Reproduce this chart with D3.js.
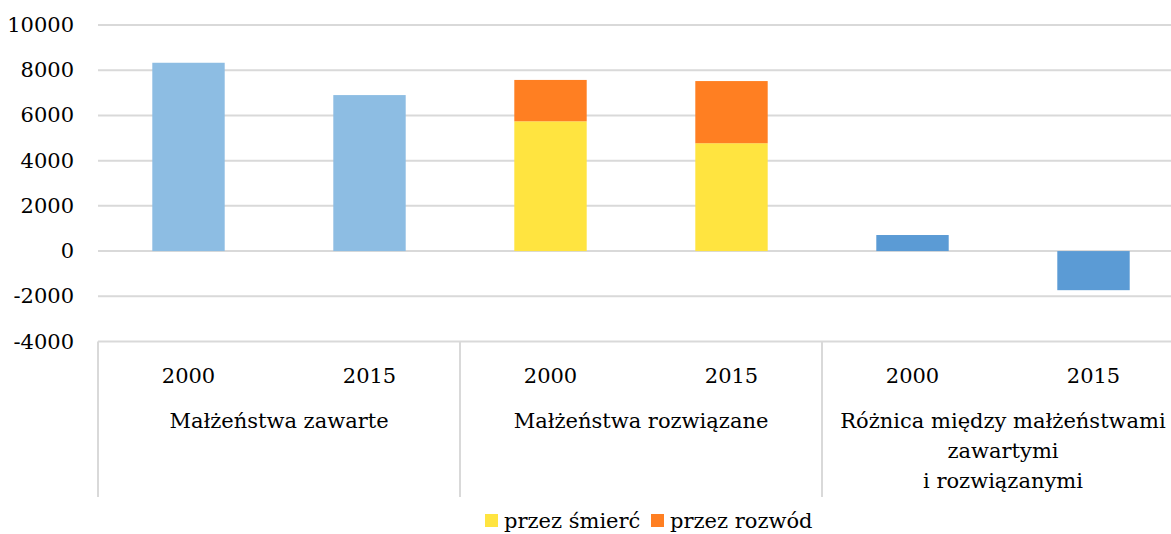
<!DOCTYPE html>
<html>
<head>
	<meta charset="utf-8">
	<title>Małżeństwa zawarte i rozwiązane</title>
	<style>
		html, body { margin:0; padding:0; background:#fff; }
		svg { display:block; }
		.grid line { stroke: #d9d9d9; stroke-width: 2px; }
	</style>
	<script src="https://d3js.org/d3.v7.min.js"></script>
</head>
<body>
<svg id="chart"></svg>
<script>

	//data
	var groups = ["Małżeństwa zawarte", "Małżeństwa rozwiązane", "Różnica między małżeństwami|zawartymi|i rozwiązanymi"];
	var years = ["2000", "2015"];
	var zawarte = [8330, 6900];
	var smierc = [5740, 4770];
	var rozwod = [1830, 2750];
	var roznica = [710, -1730];
	var yTicks = [-4000, -2000, 0, 2000, 4000, 6000, 8000, 10000];
	var legendLabels = ["przez śmierć", "przez rozwód"];

	var colZaw = "#8dbde3", colSm = "#ffe440", colRoz = "#ff7f22", colDiff = "#5b9bd5";
	var FONT = "'DejaVu Serif', 'Liberation Serif', serif";

	var W = 1171, H = 534,
			left = 98, step = 181,
			svg = d3.select("#chart").attr("width", W).attr("height", H);

	function label(sel){
		return sel.append("text").style("font-family", FONT).style("font-size", "21px").attr("fill", "#000");
	}

	//one slot per group/year
	var slots = [];
	groups.forEach(function(g, gi){ years.forEach(function(y, yi){ slots.push(gi+"_"+yi); }); });

	var x = d3.scaleBand().domain(slots).range([left, left + slots.length*step]).paddingInner(0.6).paddingOuter(0.3);
	var y = d3.scaleLinear().domain([-4000, 10000]).range([341.5, 25]);

	//grid
	svg.append("g").attr("class","grid").selectAll("line").data(yTicks).enter()
			.append("line").attr("x1", left).attr("x2", W).attr("y1", function(d){ return y(d); }).attr("y2", function(d){ return y(d); });

	//y labels
	var yl = svg.append("g");
	yTicks.forEach(function(d){
		label(yl).attr("x", 74).attr("y", y(d)+7).attr("text-anchor","end").text(d);
	});

	//bars
	var g = svg.append("g");
	zawarte.forEach(function(v, i){
		g.append("rect").attr("x", x("0_"+i)).attr("width", x.bandwidth())
				.attr("y", y(v)).attr("height", y(0)-y(v)).attr("fill", colZaw);
	});
	smierc.forEach(function(v, i){
		var tot = v + rozwod[i];
		g.append("rect").attr("x", x("1_"+i)).attr("width", x.bandwidth())
				.attr("y", y(v)).attr("height", y(0)-y(v)).attr("fill", colSm);
		g.append("rect").attr("x", x("1_"+i)).attr("width", x.bandwidth())
				.attr("y", y(tot)).attr("height", y(v)-y(tot)).attr("fill", colRoz);
	});
	roznica.forEach(function(v, i){
		g.append("rect").attr("x", x("2_"+i)).attr("width", x.bandwidth())
				.attr("y", y(Math.max(0, v))).attr("height", Math.abs(y(v)-y(0))).attr("fill", colDiff);
	});

	//category axis (multi level)
	var axTop = y(-4000), axBot = 497;
	var ax = svg.append("g");
	for(var k=0; k<=groups.length; k++){
		var xx = left + k*2*step;
		ax.append("line").attr("x1", xx).attr("x2", xx).attr("y1", axTop).attr("y2", axBot)
				.attr("stroke", "#d9d9d9").attr("stroke-width", 2);
	}
	slots.forEach(function(s){
		label(ax).attr("text-anchor","middle")
				.attr("x", x(s) + x.bandwidth()/2).attr("y", 383)
				.text(years[+s.split("_")[1]]);
	});
	groups.forEach(function(name, gi){
		var cx = left + (gi*2+1)*step;
		name.split("|").forEach(function(line, li){
			label(ax).attr("text-anchor","middle")
					.attr("x", cx).attr("y", 428 + li*30).text(line);
		});
	});

	//legend
	var lg = svg.append("g");
	var lx = [485, 651], lc = [colSm, colRoz];
	legendLabels.forEach(function(t, i){
		lg.append("rect").attr("x", lx[i]).attr("y", 514).attr("width", 13).attr("height", 13).attr("fill", lc[i]);
		label(lg).attr("x", lx[i]+19).attr("y", 528).text(t);
	});

</script>
</body>
</html>
